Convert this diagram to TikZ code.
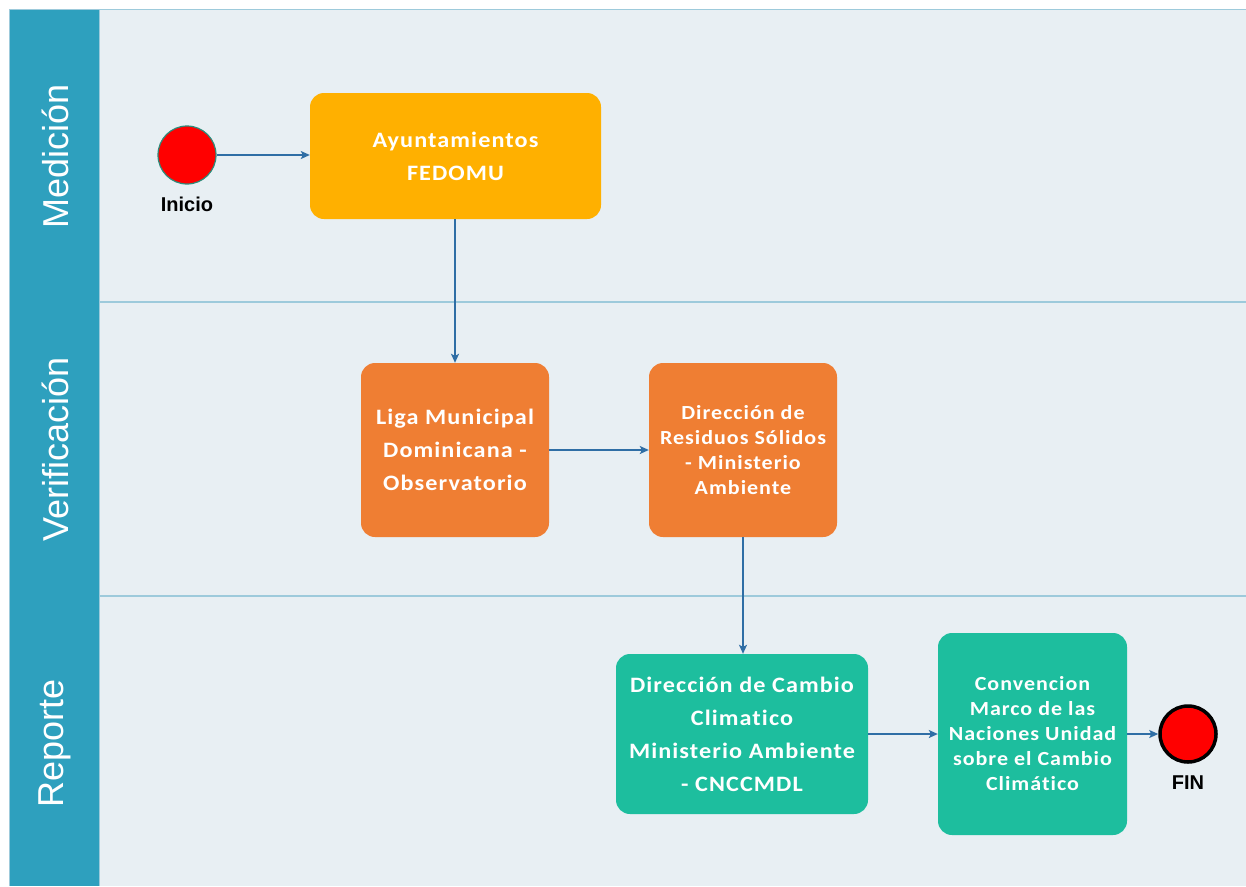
\documentclass[tikz,border=0pt]{standalone}
\usepackage{fontspec}
\setmainfont{Liberation Sans}
\newfontfamily\calfont[FakeStretch=1.1,LetterSpace=5,Ligatures=NoCommon]{Carlito}
\usetikzlibrary{arrows.meta}
\definecolor{stripc}{HTML}{2EA0BE}
\definecolor{bgc}{HTML}{E8EFF3}
\definecolor{lanec}{HTML}{9DCADB}
\definecolor{arrc}{HTML}{2F6EA5}
\definecolor{yelc}{HTML}{FFB000}
\definecolor{orac}{HTML}{EF7E33}
\definecolor{teac}{HTML}{1DBE9E}
\definecolor{redc}{HTML}{FF0000}
\definecolor{inic}{HTML}{2E8B7A}
\tikzset{
  box/.style={rounded corners=14pt, text=white, align=center, inner sep=0pt,
    font=\calfont\bfseries\fontsize{22}{33}\selectfont},
  smallbox/.style={box, font=\calfont\bfseries\fontsize{20}{25}\selectfont},
  lanelabel/.style={rotate=90, text=white, font=\fontsize{36}{40}\selectfont},
  evlabel/.style={font=\bfseries\fontsize{20}{24}\selectfont, text=black},
  flow/.style={draw=arrc, line width=1.4pt, -{Stealth[length=9pt,width=8pt,inset=2pt]}},
  laneline/.style={draw=lanec, line width=1.6pt}
}
\begin{document}
\begin{tikzpicture}[x=1pt,y=-1pt]
\useasboundingbox (0,0) rectangle (1246,886);
\fill[white] (0,0) rectangle (1246,886);
% pool background
\fill[bgc] (99,9) rectangle (1246,886);
\fill[stripc] (9,9) rectangle (99,886);
\draw[laneline] (9,9.5) -- (1246,9.5);
\draw[laneline] (99,302) -- (1246,302);
\draw[laneline] (99,596) -- (1246,596);
\draw[draw=lanec, line width=0.8pt] (99,9) -- (99,886);
\draw[draw=lanec, line width=0.8pt] (9.4,9) -- (9.4,886);
% lane labels
\node[lanelabel] (lm) at (55,156) {Medición};
\node[lanelabel] (lv) at (55,449) {Verificación};
\node[lanelabel] (lr) at (55,743) {Reporte};
% events
\node[circle, fill=redc, draw=inic, line width=1.2pt, minimum size=58pt, inner sep=0pt] (ini) at (187,155) {};
\node[evlabel] (inil) at (187,204) {Inicio};
\node[circle, fill=redc, draw=black, line width=3.5pt, minimum size=56pt, inner sep=0pt] (fin) at (1188,734) {};
\node[evlabel] (finl) at (1188,783) {FIN};
% tasks
\node[box, fill=yelc, minimum width=291pt, minimum height=126pt] (ayu) at (455.5,156) {Ayuntamientos\\FEDOMU};
\node[box, fill=orac, minimum width=188pt, minimum height=174pt] (liga) at (455,450) {Liga Municipal\\Dominicana -\\Observatorio};
\node[smallbox, fill=orac, minimum width=188pt, minimum height=174pt] (res) at (743,450) {Dirección de\\Residuos Sólidos\\- Ministerio\\Ambiente};
\node[box, fill=teac, minimum width=252pt, minimum height=160pt] (cam) at (742,734) {Dirección de Cambio\\Climatico\\Ministerio Ambiente\\- CNCCMDL};
\node[smallbox, fill=teac, minimum width=189pt, minimum height=202pt] (con) at (1032.5,734) {Convencion\\Marco de las\\Naciones Unidad\\sobre el Cambio\\Climático};
% flows
\draw[flow] (ini) -- (ayu.west |- ini);
\draw[flow] (liga.north |- ayu.south) -- (liga.north);
\draw[flow] (liga.east) -- (res.west);
\draw[flow] (res.south) -- (res.south |- cam.north);
\draw[flow] (cam.east) -- (con.west |- cam.east);
\draw[flow] (con.east |- fin) -- (fin);
\end{tikzpicture}
\end{document}
